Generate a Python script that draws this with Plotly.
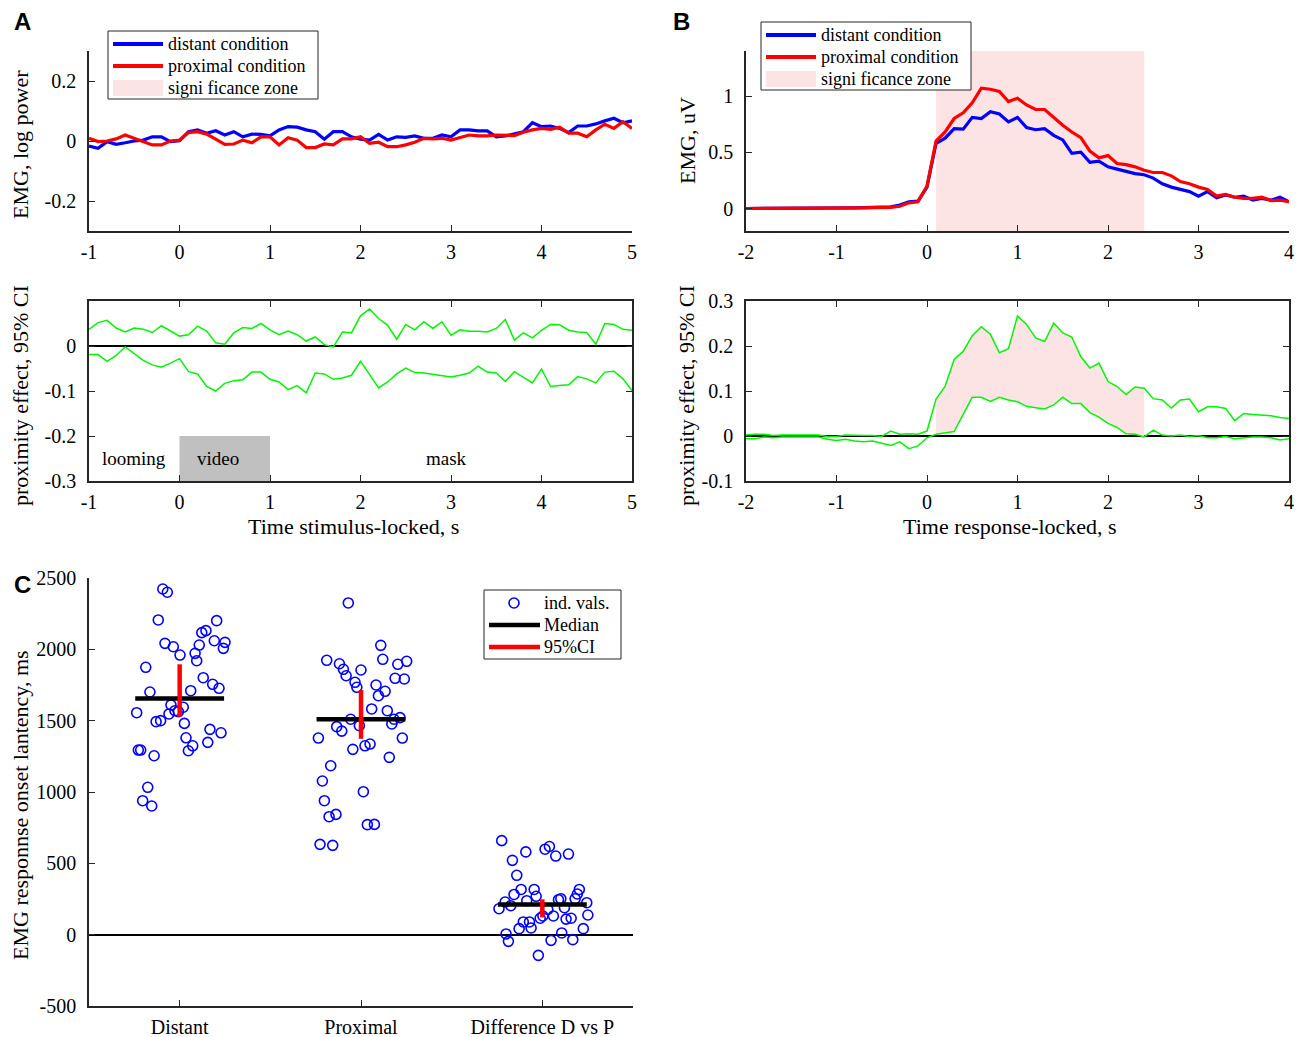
import numpy as np
import plotly.graph_objects as go

W, H = 1307, 1037
SERIF = "Liberation Serif, Times New Roman, serif"
SANS = "Liberation Sans, Arial, sans-serif"
AXC = "#262626"
BLUE = "rgb(0,0,255)"
RED = "rgb(255,0,0)"
GREEN = "rgb(0,245,0)"
PINK = "rgb(253,228,228)"
GRAY = "rgb(192,192,192)"

# ---------------- data: panel A (stimulus-locked) ----------------
t_stim = np.round(np.arange(-1.0, 5.0001, 0.1), 1)
emgA_distant = [-0.017, -0.024, -0.002, -0.011, -0.006, 0.000, 0.003, 0.014, 0.014, -0.002,
                0.001, 0.031, 0.037, 0.026, 0.034, 0.020, 0.031, 0.014, 0.023, 0.022,
                0.017, 0.037, 0.048, 0.046, 0.037, 0.031, 0.006, 0.031, 0.031, 0.014,
                0.006, 0.003, 0.022, 0.003, 0.014, 0.012, 0.017, 0.009, 0.009, 0.020,
                0.014, 0.037, 0.037, 0.034, 0.034, 0.014, 0.017, 0.023, 0.031, 0.061,
                0.048, 0.050, 0.042, 0.028, 0.050, 0.050, 0.057, 0.067, 0.076, 0.061, 0.067]
emgA_proximal = [0.009, -0.002, 0.000, 0.007, 0.020, 0.009, 0.000, -0.013, -0.013, 0.000,
                 0.003, 0.028, 0.031, 0.023, 0.006, -0.011, -0.010, 0.003, -0.006, 0.014,
                 0.014, -0.013, 0.011, 0.003, -0.022, -0.022, -0.010, -0.013, 0.007, 0.007,
                 0.014, -0.008, -0.004, -0.019, -0.019, -0.013, -0.004, 0.009, 0.007, 0.009,
                 0.003, 0.012, 0.020, 0.017, 0.017, 0.020, 0.020, 0.018, 0.029, 0.037,
                 0.042, 0.039, 0.046, 0.026, 0.026, 0.014, 0.037, 0.056, 0.042, 0.064, 0.042]
ciA_upper = [0.037, 0.052, 0.057, 0.040, 0.031, 0.040, 0.037, 0.030, 0.045, 0.033,
             0.022, 0.025, 0.044, 0.033, 0.007, 0.004, 0.029, 0.041, 0.039, 0.050,
             0.036, 0.025, 0.033, 0.025, 0.011, 0.020, 0.003, -0.002, 0.031, 0.029,
             0.067, 0.082, 0.061, 0.046, 0.015, 0.048, 0.036, 0.054, 0.039, 0.054,
             0.024, 0.036, 0.033, 0.033, 0.031, 0.039, 0.059, 0.013, 0.029, 0.018,
             0.035, 0.048, 0.047, 0.035, 0.031, 0.030, 0.004, 0.050, 0.048, 0.037, 0.035]
ciA_lower = [-0.019, -0.019, -0.034, -0.021, -0.002, -0.017, -0.032, -0.042, -0.047, -0.038,
             -0.028, -0.057, -0.062, -0.090, -0.100, -0.083, -0.077, -0.075, -0.058, -0.058,
             -0.074, -0.080, -0.097, -0.088, -0.104, -0.060, -0.062, -0.074, -0.071, -0.065,
             -0.034, -0.063, -0.093, -0.080, -0.062, -0.049, -0.059, -0.060, -0.063, -0.065,
             -0.069, -0.065, -0.060, -0.045, -0.058, -0.060, -0.079, -0.057, -0.069, -0.082,
             -0.051, -0.090, -0.088, -0.086, -0.068, -0.073, -0.082, -0.058, -0.056, -0.073, -0.099]
phase_names = ["looming", "video", "mask"]
video_interval = [0.0, 1.0]

# ---------------- data: panel B (response-locked) ----------------
t_resp = np.round(np.arange(-2.0, 4.0001, 0.1), 1)
emgB_distant = [0, 0, 0, 0, 0, 0, 0, 0, 0, 0.002, 0.003, 0.004, 0.006, 0.008, 0.010,
                0.015, 0.015, 0.030, 0.060, 0.065, 0.190,
                0.58, 0.625, 0.71, 0.705, 0.81, 0.80, 0.86, 0.84, 0.77, 0.81,
                0.72, 0.70, 0.71, 0.65, 0.61, 0.49, 0.50, 0.41, 0.42, 0.37,
                0.35, 0.33, 0.31, 0.30, 0.27, 0.22, 0.19, 0.17, 0.15, 0.11,
                0.15, 0.095, 0.12, 0.10, 0.11, 0.074, 0.09, 0.074, 0.10, 0.06]
emgB_proximal = [0, 0, 0, 0, 0, 0, 0, 0, 0, 0.001, 0.002, 0.003, 0.004, 0.006, 0.008,
                 0.006, 0.010, 0.020, 0.050, 0.060, 0.200,
                 0.60, 0.68, 0.80, 0.85, 0.94, 1.07, 1.06, 1.04, 0.95, 0.98,
                 0.92, 0.88, 0.88, 0.81, 0.74, 0.68, 0.63, 0.51, 0.45, 0.47,
                 0.40, 0.39, 0.37, 0.34, 0.32, 0.32, 0.29, 0.24, 0.22, 0.19,
                 0.17, 0.11, 0.125, 0.10, 0.09, 0.09, 0.10, 0.07, 0.074, 0.06]
ciB_upper = [0.002, 0.004, 0.004, 0.001, 0.002, 0.002, 0.001, 0.001, 0.002, -0.001,
             -0.001, 0.002, 0.001, 0.001, 0.001, -0.001, 0.011, 0.004, 0.005, 0.004,
             0.011, 0.082, 0.110, 0.170, 0.188, 0.223, 0.243, 0.226, 0.185, 0.194,
             0.267, 0.248, 0.218, 0.210, 0.251, 0.229, 0.220, 0.176, 0.151, 0.162,
             0.121, 0.110, 0.092, 0.109, 0.106, 0.083, 0.080, 0.062, 0.080, 0.082,
             0.054, 0.065, 0.065, 0.061, 0.034, 0.050, 0.048, 0.047, 0.045, 0.041, 0.039]
ciB_lower = [-0.006, -0.006, -0.002, -0.004, -0.002, -0.002, -0.002, -0.002, -0.002, -0.007,
             -0.010, -0.007, -0.011, -0.013, -0.011, -0.016, -0.021, -0.013, -0.028, -0.022,
             -0.004, 0.004, 0.007, 0.010, 0.048, 0.086, 0.086, 0.077, 0.086, 0.080,
             0.076, 0.066, 0.063, 0.060, 0.069, 0.086, 0.072, 0.072, 0.052, 0.042,
             0.028, 0.019, 0.005, 0.004, -0.002, 0.013, 0.002, 0.000, 0.002, -0.001,
             0.001, -0.004, -0.004, -0.001, -0.006, -0.004, -0.002, -0.002, -0.004, -0.009, -0.006]
sig_zone = [0.1, 2.4]
legend_AB = ["distant condition", "proximal condition", "signi ficance zone"]

# ---------------- data: panel C (onset latency) ----------------
categories = ["Distant", "Proximal", "Difference D vs P"]
distant_jitter = [-0.093, -0.068, -0.118, 0.204, 0.145, 0.122, -0.081, -0.035, 0.002, 0.108,
                  0.085, 0.094, 0.191, 0.250, 0.241, -0.187, 0.130, 0.182, 0.217, -0.164,
                  0.061, -0.237, -0.048, -0.059, -0.026, 0.020, -0.007, -0.130, -0.105, 0.026,
                  0.167, 0.228, 0.035, 0.072, 0.048, 0.155, -0.228, -0.215, -0.141, -0.176,
                  -0.204, -0.154]
distant_vals = [2423, 2400, 2206, 2201, 2131, 2117, 2042, 2018, 1960, 2030,
                1972, 1920, 2060, 2049, 2007, 1874, 1801, 1755, 1727, 1701,
                1710, 1556, 1610, 1547, 1570, 1594, 1563, 1493, 1500, 1481,
                1439, 1415, 1380, 1324, 1289, 1348, 1294, 1294, 1254, 1033,
                939, 902]
proximal_jitter = [-0.070, 0.109, -0.189, -0.119, -0.097, 0.000, -0.082, 0.120, 0.203, 0.252,
                   0.188, 0.239, -0.033, -0.023, 0.083, 0.133, 0.096, 0.059, 0.145, -0.057,
                   -0.134, -0.106, -0.009, 0.170, 0.182, 0.215, -0.235, 0.228, -0.045, 0.022,
                   0.050, 0.156, -0.167, -0.213, 0.013, -0.202, -0.176, -0.138, 0.035, 0.074,
                   -0.226, -0.156]
proximal_vals = [2325, 2028, 1923, 1899, 1860, 1855, 1815, 1930, 1895, 1916,
                 1797, 1792, 1769, 1734, 1750, 1706, 1675, 1582, 1570, 1510,
                 1458, 1427, 1465, 1477, 1510, 1521, 1378, 1378, 1299, 1324,
                 1336, 1243, 1184, 1077, 1002, 939, 827, 843, 771, 773,
                 633, 626]
diff_jitter = [-0.224, -0.091, 0.015, 0.039, 0.074, 0.144, -0.165, -0.141, -0.117, -0.156,
               -0.045, -0.205, -0.239, -0.174, -0.086, -0.034, 0.089, 0.102, 0.181, 0.193,
               0.204, 0.245, 0.122, 0.030, 0.003, -0.012, 0.061, 0.131, 0.159, 0.251,
               -0.105, -0.071, -0.128, -0.062, 0.226, -0.200, -0.187, 0.107, 0.048, 0.168,
               -0.022]
diff_vals = [659, 580, 599, 618, 551, 565, 521, 416, 317, 282,
             317, 229, 182, 203, 238, 269, 245, 252, 252, 285,
             317, 224, 189, 177, 131, 115, 131, 109, 115, 138,
             89, 89, 42, 47, 42, 5, -47, 12, -40, -35,
             -145]
medians = [1655, 1510, 212]
ci_low = [1528, 1373, 121]
ci_high = [1895, 1715, 248]
legend_C = ["ind. vals.", "Median", "95%CI"]

# ---------------- figure ----------------
fig = go.Figure()


def px_x(p):
    return p / W


def px_y(p):
    return 1 - p / H


def axis(domain, rng, tickvals, anchor, mirror=False, ticktext=None, standoff=2, **kw):
    d = dict(domain=domain, range=rng, tickvals=tickvals,
             ticktext=ticktext if ticktext is not None else [
                 ("%g" % v) for v in tickvals],
             ticks="inside", ticklen=6, tickwidth=1.3, tickcolor=AXC,
             showline=True, linecolor=AXC, linewidth=1.5,
             mirror="ticks" if mirror else False,
             showgrid=False, zeroline=False, anchor=anchor,
             tickfont=dict(family=SERIF, size=20, color="black"),
             ticklabelstandoff=standoff, fixedrange=True)
    d.update(kw)
    return d


xA = [px_x(89), px_x(632)]
xB = [px_x(746), px_x(1289)]
yTop = [px_y(231), px_y(51)]
yBot = [px_y(481), px_y(301)]

# Panel A top
fig.add_trace(go.Scatter(x=t_stim, y=emgA_distant, mode="lines", name=legend_AB[0],
                         line=dict(color=BLUE, width=3.2), xaxis="x", yaxis="y"))
fig.add_trace(go.Scatter(x=t_stim, y=emgA_proximal, mode="lines", name=legend_AB[1],
                         line=dict(color=RED, width=3.2), xaxis="x", yaxis="y"))

# Panel A bottom
for arr in (ciA_upper, ciA_lower):
    fig.add_trace(go.Scatter(x=t_stim, y=arr, mode="lines", name="95% CI",
                             line=dict(color=GREEN, width=1.5), xaxis="x2", yaxis="y2"))

# Panel B top
fig.add_trace(go.Scatter(x=[sig_zone[0], sig_zone[1], sig_zone[1], sig_zone[0], sig_zone[0]],
                         y=[-0.2, -0.2, 1.4, 1.4, -0.2], mode="lines", fill="toself",
                         fillcolor=PINK, line=dict(width=0, color=PINK), name=legend_AB[2],
                         hoverinfo="skip", xaxis="x3", yaxis="y3"))
fig.add_trace(go.Scatter(x=t_resp, y=emgB_distant, mode="lines", name=legend_AB[0],
                         line=dict(color=BLUE, width=3.2), xaxis="x3", yaxis="y3"))
fig.add_trace(go.Scatter(x=t_resp, y=emgB_proximal, mode="lines", name=legend_AB[1],
                         line=dict(color=RED, width=3.2), xaxis="x3", yaxis="y3"))

# Panel B bottom: significant area between CI bounds
mask = (t_resp >= sig_zone[0] - 1e-9) & (t_resp <= sig_zone[1] + 1e-9)
fig.add_trace(go.Scatter(x=t_resp[mask], y=np.array(ciB_lower)[mask], mode="lines",
                         line=dict(width=0, color=PINK), hoverinfo="skip",
                         xaxis="x4", yaxis="y4"))
fig.add_trace(go.Scatter(x=t_resp[mask], y=np.array(ciB_upper)[mask], mode="lines",
                         fill="tonexty", fillcolor=PINK, line=dict(width=0, color=PINK),
                         hoverinfo="skip", xaxis="x4", yaxis="y4"))
for arr in (ciB_upper, ciB_lower):
    fig.add_trace(go.Scatter(x=t_resp, y=arr, mode="lines", name="95% CI",
                             line=dict(color=GREEN, width=1.5), xaxis="x4", yaxis="y4"))

# Panel C
groups = [(distant_jitter, distant_vals), (proximal_jitter, proximal_vals), (diff_jitter, diff_vals)]
for i, (jit, vals) in enumerate(groups):
    fig.add_trace(go.Scatter(x=[i + 1 + j for j in jit], y=vals, mode="markers",
                             name=legend_C[0],
                             marker=dict(symbol="circle-open", size=10, color=BLUE,
                                         line=dict(width=1.6, color=BLUE)),
                             xaxis="x5", yaxis="y5"))
half = 0.245
for i, m in enumerate(medians):
    fig.add_trace(go.Scatter(x=[i + 1 - half, i + 1 + half], y=[m, m], mode="lines",
                             name=legend_C[1],
                             line=dict(color="black", width=4.5), xaxis="x5", yaxis="y5"))
for i in range(3):
    fig.add_trace(go.Scatter(x=[i + 1, i + 1], y=[ci_low[i], ci_high[i]], mode="lines",
                             name=legend_C[2],
                             line=dict(color=RED, width=4.5), xaxis="x5", yaxis="y5"))

# shapes & annotations
shapes = [
    dict(type="rect", xref="x2", yref="y2", x0=video_interval[0], x1=video_interval[1],
         y0=-0.3, y1=-0.2, fillcolor=GRAY, line=dict(width=0), layer="below"),
]
ann = []
phase_x = [-0.5, (video_interval[0] + video_interval[1]) / 2 - 0.07, 2.95]
for name, xp in zip(phase_names, phase_x):
    ann.append(dict(x=xp, y=-0.251, xref="x2", yref="y2", text=name, showarrow=False,
                    font=dict(family=SERIF, size=19, color="black")))


def txt(x, y, s, size=22, angle=0, family=SERIF, bold=False, anchor="center"):
    ann.append(dict(x=px_x(x), y=px_y(y), xref="paper", yref="paper",
                    text=("<b>%s</b>" % s) if bold else s, showarrow=False,
                    textangle=angle, xanchor=anchor, yanchor="middle",
                    font=dict(family=family, size=size, color="black")))


def prect(x0, y0, x1, y1, fill, line_color=None, lw=0, kind="rect"):
    shapes.append(dict(type=kind, xref="paper", yref="paper", x0=px_x(x0), x1=px_x(x1),
                       y0=px_y(y1), y1=px_y(y0), fillcolor=fill, layer="above",
                       line=dict(width=lw, color=line_color or fill)))


def pline(x0, x1, y, color, lw):
    shapes.append(dict(type="line", xref="paper", yref="paper", x0=px_x(x0), x1=px_x(x1),
                       y0=px_y(y), y1=px_y(y), layer="above", line=dict(width=lw, color=color)))


txt(20, 145, "EMG, log power", angle=-90)
txt(21, 396, "proximity effect, 95% CI", angle=-90)
txt(687, 141, "EMG, uV", angle=-90)
txt(687, 396, "proximity effect, 95% CI", angle=-90)
txt(353, 526, "Time stimulus-locked, s")
txt(1010, 526, "Time response-locked, s")
txt(20, 805, "EMG responnse onset lantency, ms", angle=-90)
txt(22, 22, "A", size=24, family=SANS, bold=True)
txt(681, 22, "B", size=24, family=SANS, bold=True)
txt(22, 584, "C", size=24, family=SANS, bold=True)


# legends for panels A and B (MATLAB-style boxes)
def legend_ab(x0, y0):
    prect(x0, y0, x0 + 210, y0 + 68, "white", AXC, 1)
    rows = [y0 + 13, y0 + 35, y0 + 57]
    pline(x0 + 5, x0 + 55, rows[0], BLUE, 4)
    pline(x0 + 5, x0 + 55, rows[1], RED, 4)
    prect(x0 + 5, rows[2] - 8, x0 + 55, rows[2] + 8, PINK)
    for lab, ry in zip(legend_AB, rows):
        txt(x0 + 58, ry, lab, size=18, anchor="left")


legend_ab(108, 31)
legend_ab(761, 22)

# legend for panel C
prect(484, 590, 621, 659, "white", AXC, 1)
rowsC = [603, 625, 647]
prect(509, rowsC[0] - 5, 519, rowsC[0] + 5, "rgba(0,0,0,0)", BLUE, 1.6, kind="circle")
pline(489, 540, rowsC[1], "black", 4.5)
pline(489, 540, rowsC[2], RED, 4.5)
for lab, ry in zip(legend_C, rowsC):
    txt(542, ry, lab, size=18, anchor="left")

fig.update_layout(
    width=W, height=H, margin=dict(l=0, r=0, t=0, b=0, autoexpand=False),
    paper_bgcolor="white", plot_bgcolor="white", showlegend=False,
    xaxis=axis(xA, [-1, 5], list(range(-1, 6)), "y"),
    yaxis=axis(yTop, [-0.3, 0.3], [-0.2, 0, 0.2], "x", standoff=7),
    xaxis2=axis(xA, [-1, 5], list(range(-1, 6)), "y2", mirror=True),
    yaxis2=axis(yBot, [-0.3, 0.1], [-0.3, -0.2, -0.1, 0], "x2", mirror=True, standoff=7,
                zeroline=True, zerolinecolor="black", zerolinewidth=2),
    xaxis3=axis(xB, [-2, 4], list(range(-2, 5)), "y3"),
    yaxis3=axis(yTop, [-0.2, 1.4], [0, 0.5, 1], "x3", standoff=7),
    xaxis4=axis(xB, [-2, 4], list(range(-2, 5)), "y4", mirror=True),
    yaxis4=axis(yBot, [-0.1, 0.3], [-0.1, 0, 0.1, 0.2, 0.3], "x4", mirror=True, standoff=7,
                zeroline=True, zerolinecolor="black", zerolinewidth=2),
    xaxis5=axis([px_x(89), px_x(633)], [0.5, 3.5], [1, 2, 3], "y5", ticktext=categories,
                standoff=2),
    yaxis5=axis([px_y(1006), px_y(578)], [-500, 2500],
                [-500, 0, 500, 1000, 1500, 2000, 2500], "x5", standoff=7,
                zeroline=True, zerolinecolor="black", zerolinewidth=1.5),
    shapes=shapes, annotations=ann,
)

fig.write_html("out.html", config={"displayModeBar": False},
               post_script="document.body.style.margin='0px';document.body.style.overflow='hidden';")
